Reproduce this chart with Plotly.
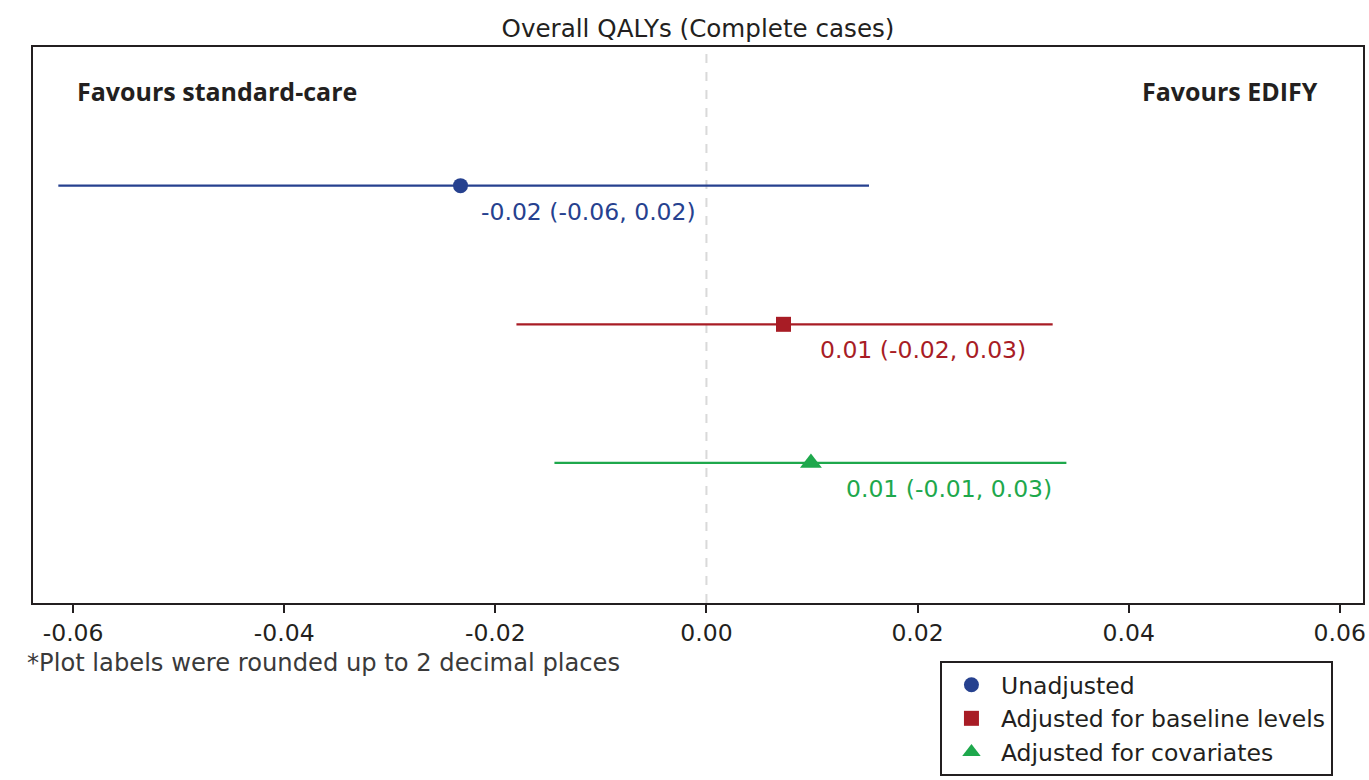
import plotly.graph_objects as go

# ---- data ----
series_names = ["Unadjusted", "Adjusted for baseline levels", "Adjusted for covariates"]
estimates = [-0.0233, 0.0073, 0.0099]
ci_lower = [-0.0614, -0.0180, -0.0144]
ci_upper = [0.0154, 0.0328, 0.0341]
row_positions = [3, 2, 1]
point_labels = ["-0.02 (-0.06, 0.02)", "0.01 (-0.02, 0.03)", "0.01 (-0.01, 0.03)"]
tick_values = [-0.06, -0.04, -0.02, 0.00, 0.02, 0.04, 0.06]
tick_labels = ["-0.06", "-0.04", "-0.02", "0.00", "0.02", "0.04", "0.06"]

# ---- styles ----
colors = ["#26418f", "#a81c25", "#1ea84c"]
symbols = ["circle", "square", "triangle-up"]
marker_sizes = [15, 15, 19]
label_xshift = [18, 34, 33]
FONT = "DejaVu Sans"
BOLD_FONT = "Open Sans"
FS = 23.5
DARK = "#231f20"

W, H = 1369, 780
ML, MR, MT, MB = 33, 3, 47, 177
PW, PH = W - ML - MR, H - MT - MB


def px_x(px):
    return (px - ML) / PW


def px_y(py):
    return 1 - (py - MT) / PH


fig = go.Figure()

# zero reference line
fig.add_shape(type="line", xref="x", yref="paper", x0=0, x1=0, y0=0, y1=1,
              line=dict(color="#d9d9d9", width=2, dash="dash"), layer="below")

for name, est, lo, hi, yv, col, sym, ms in zip(series_names, estimates, ci_lower, ci_upper,
                                                 row_positions, colors, symbols, marker_sizes):
    fig.add_trace(go.Scatter(
        x=[est], y=[yv], mode="markers", name=name,
        marker=dict(color=col, symbol=sym, size=ms),
        error_x=dict(type="data", symmetric=False, array=[hi - est], arrayminus=[est - lo],
                     color=col, thickness=2.2, width=0),
        showlegend=True,
    ))

for est, yv, lab, col, xs in zip(estimates, row_positions, point_labels, colors, label_xshift):
    fig.add_annotation(x=est, y=yv, xref="x", yref="y", text=lab, showarrow=False,
                       xanchor="left", yanchor="middle", xshift=xs, yshift=-26,
                       font=dict(family=FONT, size=FS, color=col))

fig.add_annotation(x=px_x(75), y=px_y(91), xref="paper", yref="paper",
                   text="<b>Favours standard-care</b>",
                   showarrow=False, xanchor="left", yanchor="middle",
                   font=dict(family=BOLD_FONT, size=25, color=DARK))
fig.add_annotation(x=px_x(1323), y=px_y(91), xref="paper", yref="paper",
                   text="<b>Favours EDIFY</b>",
                   showarrow=False, xanchor="right", yanchor="middle",
                   font=dict(family=BOLD_FONT, size=25, color=DARK))

# footnote
fig.add_annotation(x=px_x(25), y=px_y(663), xref="paper", yref="paper",
                   text="*Plot labels were rounded up to 2 decimal places",
                   showarrow=False, xanchor="left", yanchor="middle",
                   font=dict(family=FONT, size=24.2, color="#3a3a3a"))

fig.update_layout(
    width=W, height=H,
    margin=dict(l=ML, r=MR, t=MT, b=MB),
    paper_bgcolor="white", plot_bgcolor="white",
    title=dict(text="Overall QALYs (Complete cases)", x=0.5, xanchor="center", xref="paper",
               y=1 - 28 / H, yanchor="middle", yref="container",
               font=dict(family=FONT, size=24.6, color=DARK)),
    font=dict(family=FONT, size=FS, color=DARK),
    xaxis=dict(range=[-0.0638, 0.0622], tickvals=tick_values, ticktext=tick_labels,
               showgrid=False, zeroline=False, showline=True, mirror=True,
               linecolor=DARK, linewidth=2, ticks="outside", ticklen=8, tickwidth=2,
               tickcolor=DARK, tickfont=dict(family=FONT, size=FS, color=DARK)),
    yaxis=dict(range=[-0.01, 4.0], showgrid=False, zeroline=False, showticklabels=False,
               showline=True, mirror=True, linecolor=DARK, linewidth=2, ticks=""),
    legend=dict(x=px_x(942), y=px_y(661), xanchor="left", yanchor="top",
                bgcolor="white", bordercolor=DARK, borderwidth=2, itemwidth=49,
                font=dict(family=FONT, size=FS, color=DARK), tracegroupgap=0),
    showlegend=True,
)

fig.write_html("out.html", config={"displayModeBar": False},
               post_script="document.body.style.margin='0';")
